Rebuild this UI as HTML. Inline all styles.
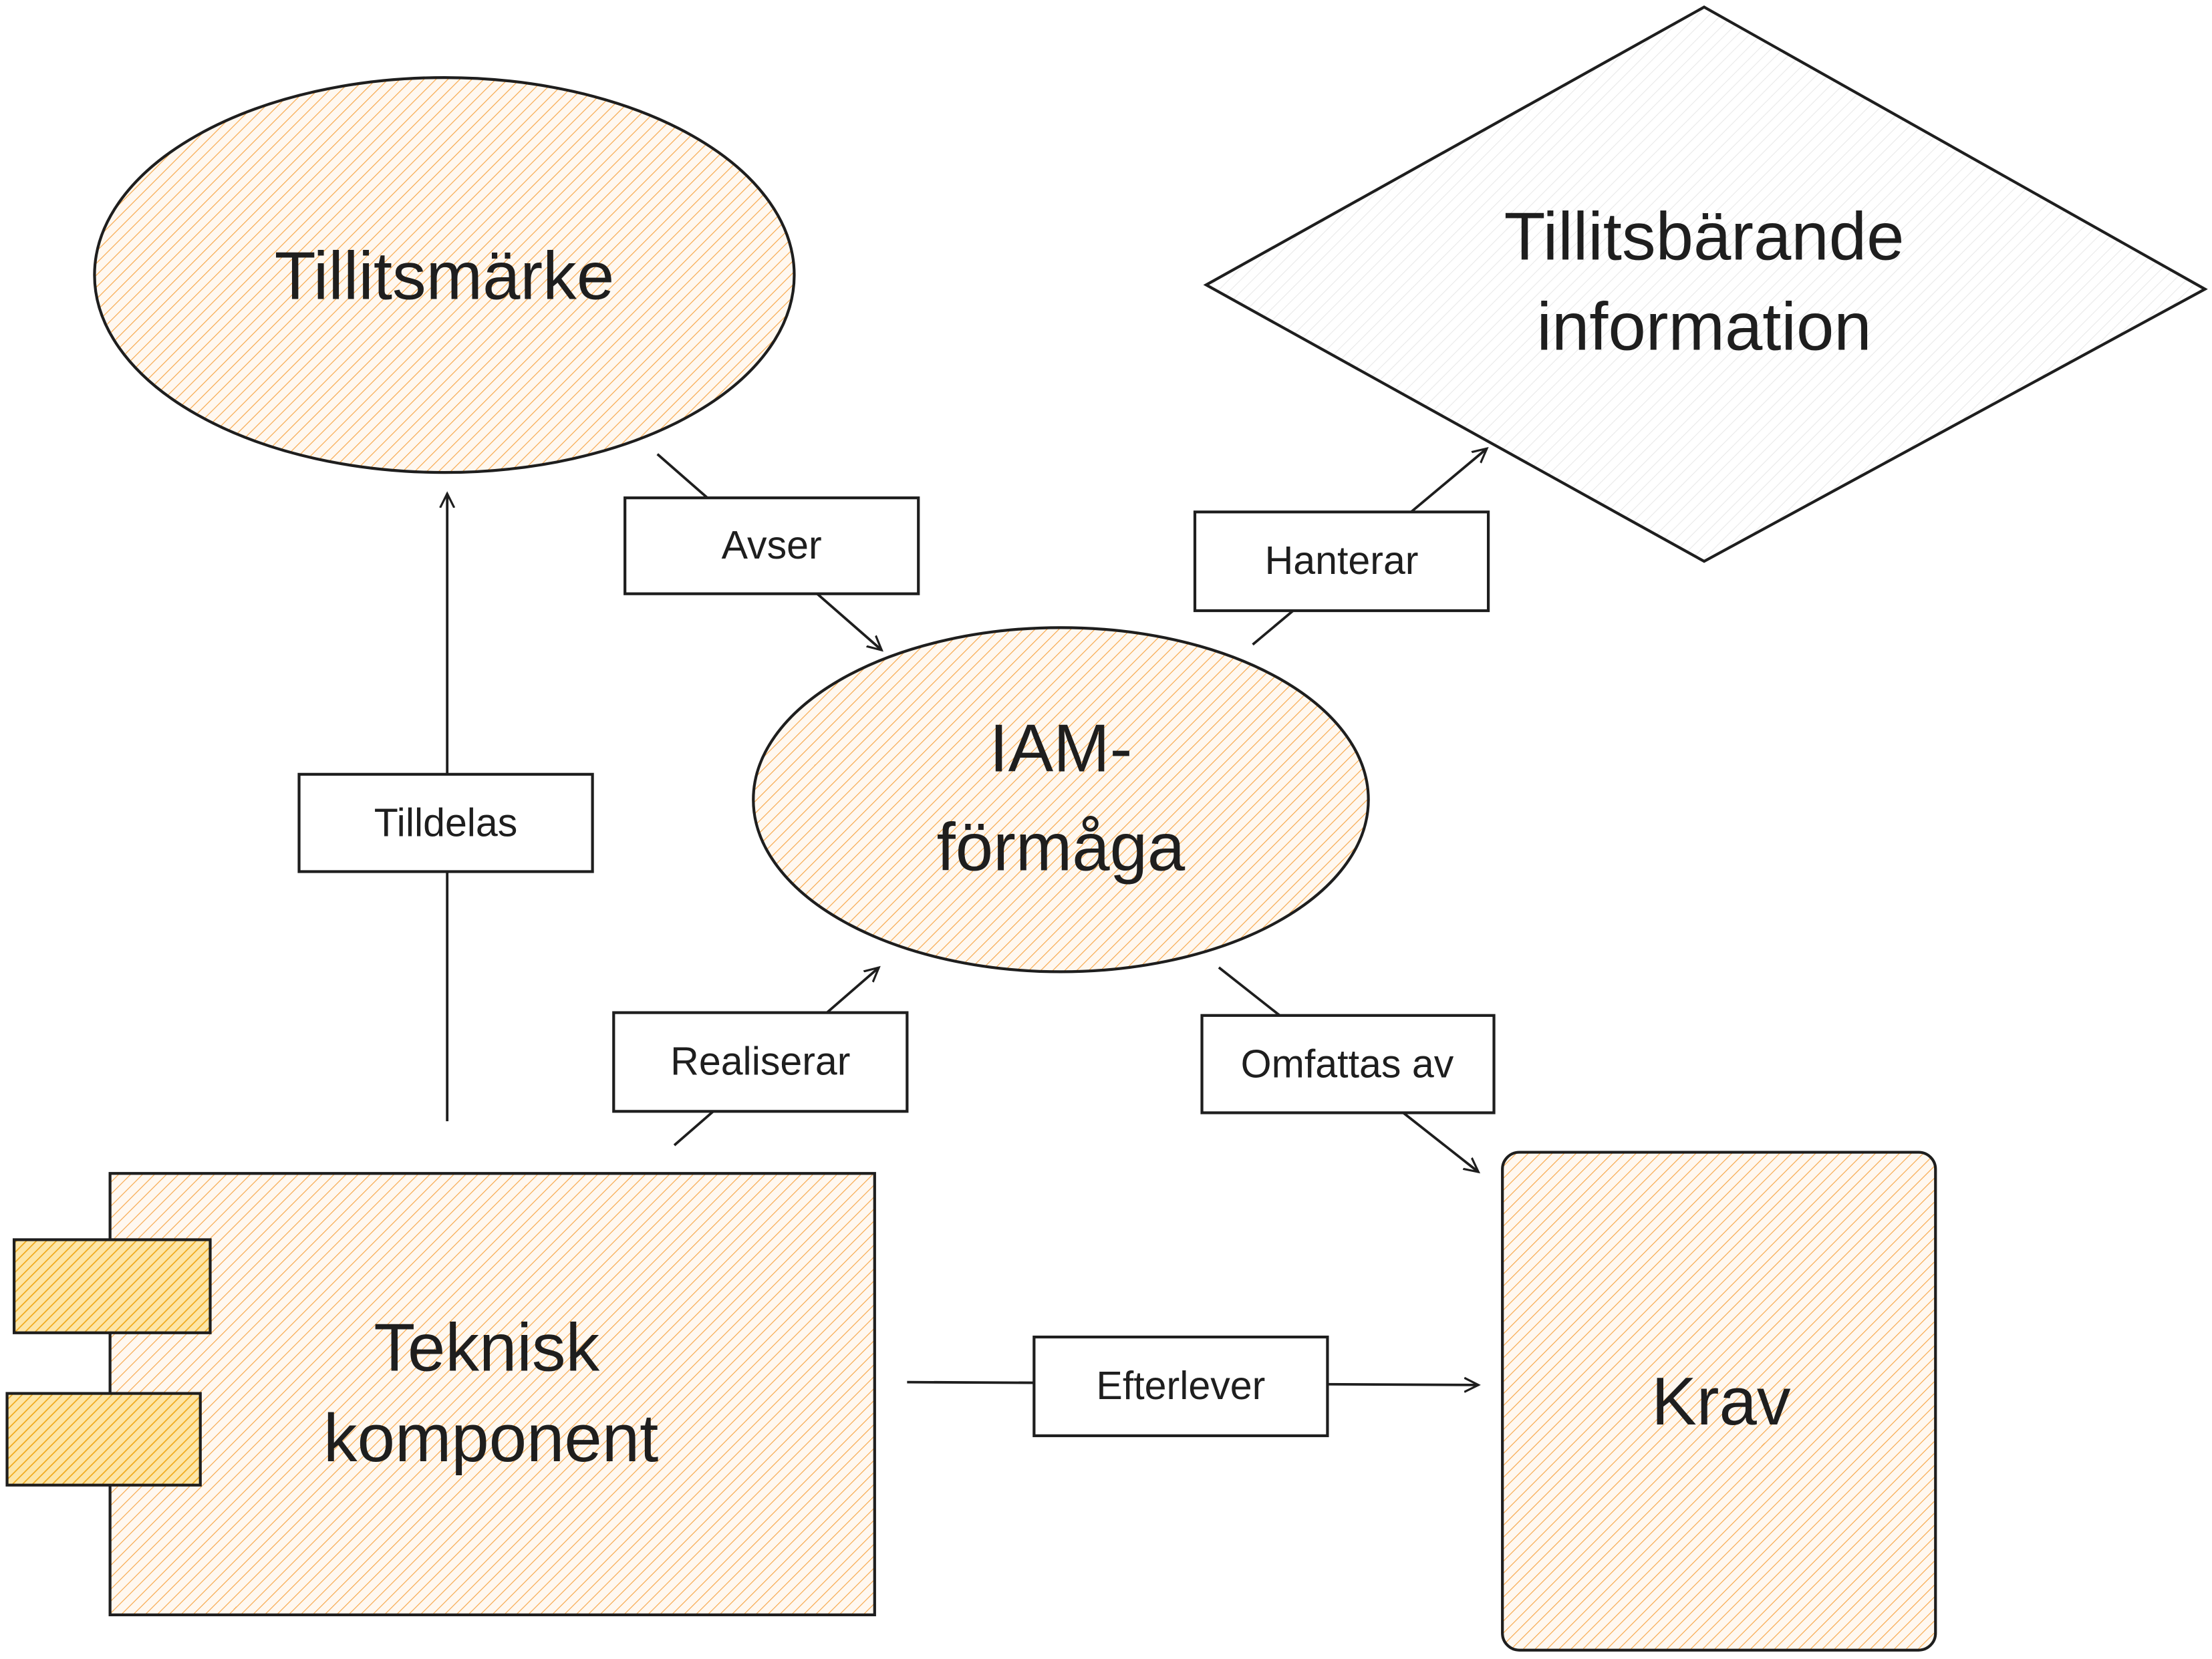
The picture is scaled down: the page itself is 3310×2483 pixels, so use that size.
<!DOCTYPE html>
<html><head><meta charset="utf-8"><style>
html,body{margin:0;padding:0;background:#fff;}
svg{display:block;}
text{font-family:"Liberation Sans",sans-serif;fill:#1e1e1e;}
</style></head><body>
<svg width="3310" height="2483" viewBox="0 0 1568 1176.3" preserveAspectRatio="none" xmlns="http://www.w3.org/2000/svg">
<defs>
<pattern id="h" width="6" height="6" patternUnits="userSpaceOnUse" patternTransform="rotate(45)">
<rect width="6" height="6" fill="#fff8f0"/><line x1="0" y1="0" x2="0" y2="6" stroke="#f7a74a" stroke-width="1.1"/></pattern>
<pattern id="g" width="6" height="6" patternUnits="userSpaceOnUse" patternTransform="rotate(45)">
<rect width="6" height="6" fill="#fff"/><line x1="0" y1="0" x2="0" y2="6" stroke="#e8e8e8" stroke-width="1"/></pattern>
<pattern id="y" width="5" height="5" patternUnits="userSpaceOnUse" patternTransform="rotate(45)">
<rect width="5" height="5" fill="#fde6a8"/><line x1="0" y1="0" x2="0" y2="5" stroke="#f0a818" stroke-width="1.6"/></pattern>
<marker id="a" markerWidth="12" markerHeight="12" refX="10" refY="6" orient="auto" markerUnits="userSpaceOnUse">
<path d="M0,1 L10,6 L0,11" fill="none" stroke="#1e1e1e" stroke-width="1.5"/></marker>
</defs>
<g stroke="#1e1e1e" stroke-width="2">
<ellipse cx="315" cy="195" rx="248" ry="140" fill="url(#h)"/>
<polygon points="1208,5 1563,205 1208,398 855,202" fill="url(#g)"/>
<ellipse cx="752" cy="567" rx="218" ry="122" fill="url(#h)"/>
<rect x="78" y="832" width="542" height="313" fill="url(#h)"/>
<rect x="10" y="879" width="139" height="66" fill="url(#y)"/>
<rect x="5" y="988" width="137" height="65" fill="url(#y)"/>
<rect x="1065" y="817" width="307" height="353" rx="12" fill="url(#h)"/>
</g>
<g stroke="#1e1e1e" stroke-width="1.8" fill="none">
<line x1="317" y1="795" x2="317" y2="350" marker-end="url(#a)"/>
<line x1="466" y1="322" x2="625" y2="461" marker-end="url(#a)"/>
<line x1="888" y1="457" x2="1054" y2="318" marker-end="url(#a)"/>
<line x1="478" y1="812" x2="623" y2="686" marker-end="url(#a)"/>
<line x1="864" y1="686" x2="1048" y2="831" marker-end="url(#a)"/>
<line x1="643" y1="980" x2="1048" y2="982" marker-end="url(#a)"/>
</g>
<g stroke="#1e1e1e" stroke-width="2" fill="#fff">
<rect x="443" y="353" width="208" height="68"/>
<rect x="847" y="363" width="208" height="70"/>
<rect x="212" y="549" width="208" height="69"/>
<rect x="435" y="718" width="208" height="70"/>
<rect x="852" y="720" width="207" height="69"/>
<rect x="733" y="948" width="208" height="70"/>
</g>
<g text-anchor="middle" font-size="28">
<text x="547" y="396">Avser</text>
<text x="951" y="407">Hanterar</text>
<text x="316" y="593">Tilldelas</text>
<text x="539" y="762">Realiserar</text>
<text x="955" y="764">Omfattas av</text>
<text x="837" y="992">Efterlever</text>
</g>
<g text-anchor="middle" font-size="48">
<text x="315" y="212">Tillitsmärke</text>
<text x="1208" y="184">Tillitsbärande</text>
<text x="1208" y="248">information</text>
<text x="752" y="547">IAM-</text>
<text x="752" y="617">förmåga</text>
<text x="345" y="972">Teknisk</text>
<text x="348" y="1036">komponent</text>
<text x="1220" y="1010">Krav</text>
</g>
</svg>
</body></html>
